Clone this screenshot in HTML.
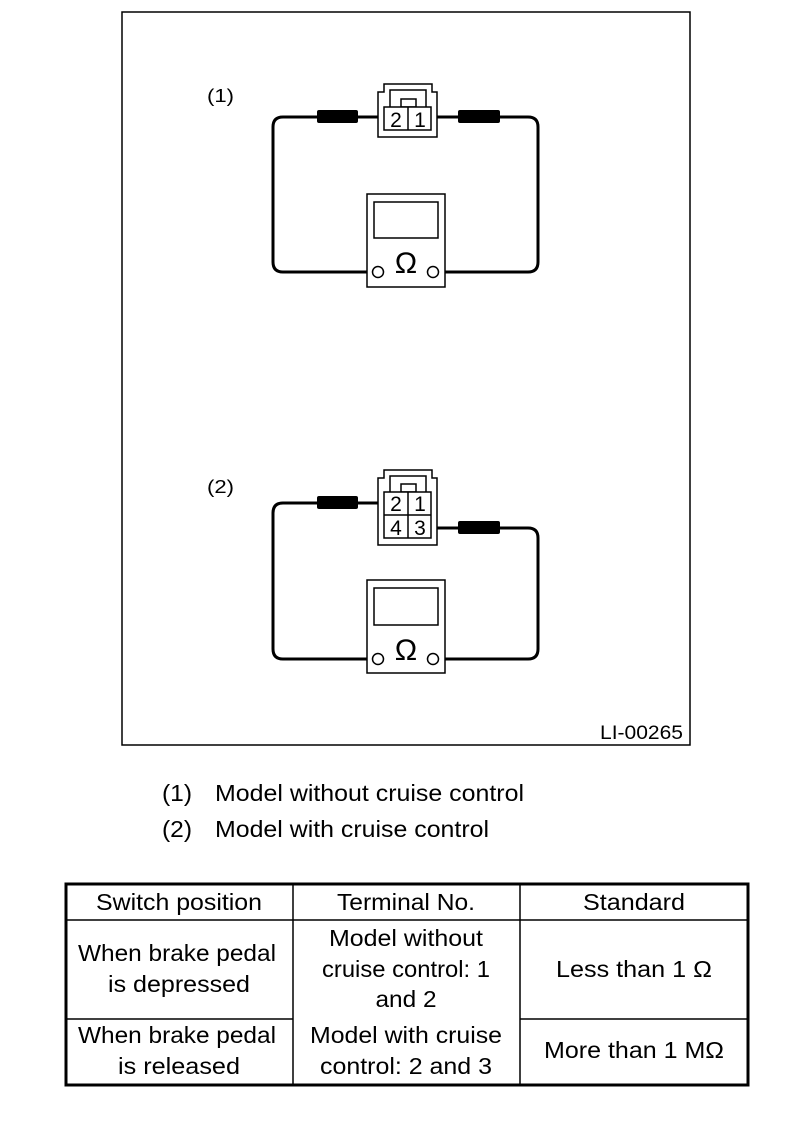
<!DOCTYPE html>
<html><head><meta charset="utf-8"><style>
html,body{margin:0;padding:0;background:#fff;}
svg{display:block;}
text{font-family:"Liberation Sans",sans-serif;fill:#000;}
</style></head><body>
<svg width="800" height="1132" viewBox="0 0 800 1132" xmlns="http://www.w3.org/2000/svg">
<rect x="122" y="12" width="568" height="733" fill="none" stroke="#000" stroke-width="1.5"/>
<text x="207" y="102" font-size="18" textLength="27" lengthAdjust="spacingAndGlyphs">(1)</text>
<text x="207" y="493" font-size="18" textLength="27" lengthAdjust="spacingAndGlyphs">(2)</text>
<text x="600" y="739" font-size="19" textLength="83" lengthAdjust="spacingAndGlyphs">LI-00265</text>

<!-- Diagram 1 -->
<g fill="none" stroke="#000">
  <path d="M384,117 H283 Q273,117 273,127 V262 Q273,272 283,272 H372" stroke-width="3"/>
  <path d="M431,117 H528 Q538,117 538,127 V262 Q538,272 528,272 H439" stroke-width="3"/>
  <path d="M384,84 H432 V92 H437 V137 H378 V92 H384 Z" stroke-width="1.5" fill="#fff"/>
  <path d="M390,107 V90 H426 V107" stroke-width="1.5"/>
  <rect x="401" y="99" width="15" height="8" stroke-width="1.5"/>
  <rect x="384" y="107" width="47" height="23" stroke-width="1.5" fill="#fff"/>
  <line x1="408" y1="107" x2="408" y2="130" stroke-width="1.5"/>
  <rect x="367" y="194" width="78" height="93" stroke-width="1.5" fill="#fff"/>
  <rect x="374" y="202" width="64" height="36" stroke-width="1.5"/>
  <circle cx="378" cy="272" r="5.5" stroke-width="1.5" fill="#fff"/>
  <circle cx="433" cy="272" r="5.5" stroke-width="1.5" fill="#fff"/>
</g>
<rect x="317" y="110" width="41" height="13" rx="2" fill="#000"/>
<rect x="458" y="110" width="42" height="13" rx="2" fill="#000"/>
<text x="396" y="127" font-size="21" text-anchor="middle">2</text>
<text x="420" y="127" font-size="21" text-anchor="middle">1</text>
<text x="406" y="273" font-size="30" text-anchor="middle">Ω</text>

<!-- Diagram 2 -->
<g fill="none" stroke="#000">
  <path d="M384,503 H283 Q273,503 273,513 V649 Q273,659 283,659 H372" stroke-width="3"/>
  <path d="M431,528 H528 Q538,528 538,538 V649 Q538,659 528,659 H439" stroke-width="3"/>
  <path d="M384,470 H432 V478 H437 V545 H378 V478 H384 Z" stroke-width="1.5" fill="#fff"/>
  <path d="M390,492 V476 H426 V492" stroke-width="1.5"/>
  <rect x="401" y="484" width="15" height="8" stroke-width="1.5"/>
  <rect x="384" y="492" width="47" height="46" stroke-width="1.5" fill="#fff"/>
  <line x1="408" y1="492" x2="408" y2="538" stroke-width="1.5"/>
  <line x1="384" y1="515" x2="431" y2="515" stroke-width="1.5"/>
  <rect x="367" y="580" width="78" height="93" stroke-width="1.5" fill="#fff"/>
  <rect x="374" y="588" width="64" height="37" stroke-width="1.5"/>
  <circle cx="378" cy="659" r="5.5" stroke-width="1.5" fill="#fff"/>
  <circle cx="433" cy="659" r="5.5" stroke-width="1.5" fill="#fff"/>
</g>
<rect x="317" y="496" width="41" height="13" rx="2" fill="#000"/>
<rect x="458" y="521" width="42" height="13" rx="2" fill="#000"/>
<text x="396" y="511" font-size="21" text-anchor="middle">2</text>
<text x="420" y="511" font-size="21" text-anchor="middle">1</text>
<text x="396" y="535" font-size="21" text-anchor="middle">4</text>
<text x="420" y="535" font-size="21" text-anchor="middle">3</text>
<text x="406" y="660" font-size="30" text-anchor="middle">Ω</text>

<!-- Legend -->
<g font-size="23">
<text x="162" y="801" textLength="30" lengthAdjust="spacingAndGlyphs">(1)</text>
<text x="215" y="801" textLength="309" lengthAdjust="spacingAndGlyphs">Model without cruise control</text>
<text x="162" y="837" textLength="30" lengthAdjust="spacingAndGlyphs">(2)</text>
<text x="215" y="837" textLength="274" lengthAdjust="spacingAndGlyphs">Model with cruise control</text>
</g>

<!-- Table -->
<g stroke="#000" fill="none">
  <rect x="66" y="884" width="682" height="201" stroke-width="3"/>
  <line x1="66" y1="920" x2="748" y2="920" stroke-width="1.5"/>
  <line x1="293" y1="884" x2="293" y2="1085" stroke-width="1.5"/>
  <line x1="520" y1="884" x2="520" y2="1085" stroke-width="1.5"/>
  <line x1="66" y1="1019" x2="293" y2="1019" stroke-width="1.5"/>
  <line x1="520" y1="1019" x2="748" y2="1019" stroke-width="1.5"/>
</g>
<g font-size="23" text-anchor="middle">
  <text x="179" y="910" textLength="166" lengthAdjust="spacingAndGlyphs">Switch position</text>
  <text x="406" y="910" textLength="138" lengthAdjust="spacingAndGlyphs">Terminal No.</text>
  <text x="634" y="910" textLength="102" lengthAdjust="spacingAndGlyphs">Standard</text>
  <text x="177" y="961" textLength="198" lengthAdjust="spacingAndGlyphs">When brake pedal</text>
  <text x="179" y="992" textLength="142" lengthAdjust="spacingAndGlyphs">is depressed</text>
  <text x="406" y="946" textLength="154" lengthAdjust="spacingAndGlyphs">Model without</text>
  <text x="406" y="977" textLength="168" lengthAdjust="spacingAndGlyphs">cruise control: 1</text>
  <text x="406" y="1007" textLength="61" lengthAdjust="spacingAndGlyphs">and 2</text>
  <text x="634" y="977" textLength="156" lengthAdjust="spacingAndGlyphs">Less than 1 Ω</text>
  <text x="177" y="1043" textLength="198" lengthAdjust="spacingAndGlyphs">When brake pedal</text>
  <text x="179" y="1074" textLength="122" lengthAdjust="spacingAndGlyphs">is released</text>
  <text x="406" y="1043" textLength="192" lengthAdjust="spacingAndGlyphs">Model with cruise</text>
  <text x="406" y="1074" textLength="172" lengthAdjust="spacingAndGlyphs">control: 2 and 3</text>
  <text x="634" y="1058" textLength="180" lengthAdjust="spacingAndGlyphs">More than 1 MΩ</text>
</g>
</svg>
</body></html>
